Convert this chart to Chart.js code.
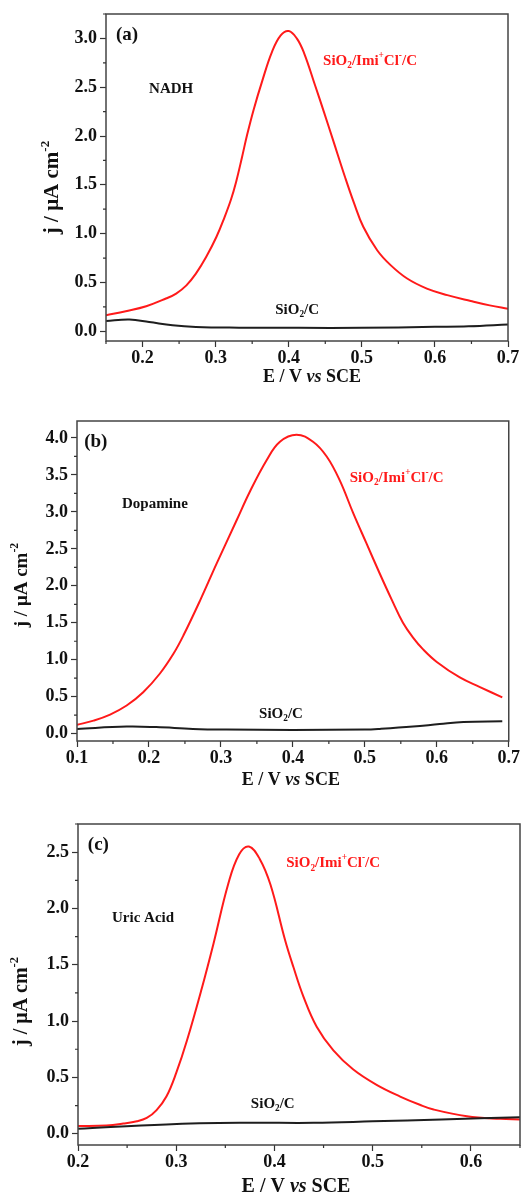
<!DOCTYPE html>
<html>
<head>
<meta charset="utf-8">
<script src="https://cdn.jsdelivr.net/npm/chart.js@4.4.1/dist/chart.umd.min.js"></script>
<style>
  body { margin: 0; background: #fff; }
  #wrap { position: relative; width: 521px; height: 1195px; overflow: hidden; }
  canvas { position: absolute; left: 0; }
</style>
</head>
<body>
<div id="wrap">
  <canvas id="chartA" width="521" height="395" style="top:0"></canvas>
  <canvas id="chartB" width="521" height="395" style="top:400px"></canvas>
  <canvas id="chartC" width="521" height="395" style="top:800px"></canvas>
</div>
<script>
// (a) NADH
const potRedA   = [0.15, 0.177, 0.205, 0.232, 0.246, 0.26, 0.273, 0.287, 0.301, 0.312, 0.321, 0.328, 0.336, 0.343, 0.352, 0.364, 0.377, 0.389, 0.40, 0.411, 0.421, 0.436, 0.448, 0.461, 0.477, 0.489, 0.502, 0.521, 0.539, 0.562, 0.589, 0.617, 0.649, 0.675, 0.70];
const jRedA     = [0.164, 0.205, 0.256, 0.335, 0.386, 0.47, 0.59, 0.76, 0.965, 1.165, 1.35, 1.53, 1.78, 2.01, 2.27, 2.57, 2.86, 3.03, 3.075, 3.0, 2.85, 2.52, 2.25, 1.95, 1.58, 1.32, 1.07, 0.83, 0.68, 0.54, 0.437, 0.37, 0.31, 0.265, 0.23];
const potBlackA = [0.15, 0.182, 0.209, 0.241, 0.273, 0.332, 0.414, 0.5, 0.6, 0.646, 0.70];
const jBlackA   = [0.105, 0.12, 0.095, 0.061, 0.044, 0.037, 0.035, 0.035, 0.045, 0.05, 0.068];
const xTicksA   = [0.2, 0.3, 0.4, 0.5, 0.6, 0.7];
const yTicksA   = [0.0, 0.5, 1.0, 1.5, 2.0, 2.5, 3.0];

// (b) Dopamine
const potRedB   = [0.1, 0.123, 0.146, 0.169, 0.192, 0.215, 0.234, 0.248, 0.271, 0.294, 0.322, 0.340, 0.3635, 0.382, 0.405, 0.428, 0.447, 0.465, 0.484, 0.502, 0.521, 0.537, 0.553, 0.567, 0.581, 0.6, 0.632, 0.66, 0.691];
const jRedB     = [0.118, 0.176, 0.258, 0.38, 0.56, 0.81, 1.08, 1.33, 1.80, 2.30, 2.89, 3.27, 3.70, 3.95, 4.045, 3.95, 3.75, 3.43, 2.98, 2.58, 2.16, 1.82, 1.50, 1.30, 1.14, 0.97, 0.76, 0.63, 0.49];
const potBlackB = [0.1, 0.169, 0.21, 0.261, 0.308, 0.4, 0.5, 0.521, 0.567, 0.604, 0.637, 0.691];
const jBlackB   = [0.064, 0.095, 0.088, 0.064, 0.055, 0.05, 0.055, 0.064, 0.095, 0.13, 0.158, 0.167];
const xTicksB   = [0.1, 0.2, 0.3, 0.4, 0.5, 0.6, 0.7];
const yTicksB   = [0.0, 0.5, 1.0, 1.5, 2.0, 2.5, 3.0, 3.5, 4.0];

// (c) Uric Acid
const potRedC   = [0.2, 0.229, 0.246, 0.26, 0.27, 0.28, 0.29, 0.30, 0.311, 0.326, 0.338, 0.353, 0.364, 0.374, 0.385, 0.396, 0.4108, 0.4193, 0.4294, 0.443, 0.46, 0.4803, 0.504, 0.528, 0.548, 0.562, 0.596, 0.63, 0.65];
const jRedC     = [0.068, 0.074, 0.09, 0.11, 0.14, 0.21, 0.33, 0.54, 0.83, 1.29, 1.69, 2.22, 2.48, 2.55, 2.44, 2.21, 1.72, 1.48, 1.22, 0.95, 0.74, 0.57, 0.434, 0.33, 0.257, 0.215, 0.155, 0.132, 0.127];
const potBlackC = [0.2, 0.29, 0.37, 0.44, 0.5, 0.57, 0.65];
const jBlackC   = [0.044, 0.083, 0.097, 0.097, 0.11, 0.127, 0.147];
const xTicksC   = [0.2, 0.3, 0.4, 0.5, 0.6];
const yTicksC   = [0.0, 0.5, 1.0, 1.5, 2.0, 2.5];

const SERIF = '"Liberation Serif", "Times New Roman", serif';
const RED = '#ff1a1a';

// tiny markup: _{sub} ^{sup} ~{italic}
function parseRich(str) {
  const segs = [];
  const re = /([_^~])\{([^}]*)\}|([^_^~]+)/g;
  let m;
  while ((m = re.exec(str))) {
    if (m[3]) segs.push({ t: m[3] });
    else segs.push({ t: m[2], sub: m[1] === '_', sup: m[1] === '^', it: m[1] === '~' });
  }
  return segs;
}

function drawRich(ctx, str, x, y, size, color, align) {
  const parts = parseRich(str).map(s => {
    const sz = (s.sub || s.sup) ? size * 0.62 : size;
    const font = `${s.it ? 'italic ' : ''}bold ${sz}px ${SERIF}`;
    ctx.font = font;
    return { s, font, w: ctx.measureText(s.t).width };
  });
  const total = parts.reduce((a, p) => a + p.w, 0);
  let cx = align === 'center' ? x - total / 2 : x;
  ctx.fillStyle = color;
  ctx.textAlign = 'left';
  ctx.textBaseline = 'middle';
  parts.forEach(p => {
    ctx.font = p.font;
    const dy = p.s.sub ? size * 0.32 : p.s.sup ? -size * 0.36 : 0;
    ctx.fillText(p.s.t, cx, y + dy);
    cx += p.w;
  });
}

const pts = (xs, ys) => xs.map((x, i) => ({ x, y: ys[i] }));

// frame, minor ticks, axis titles and text labels
const decor = p => ({
  id: 'decor',
  afterDraw(chart) {
    const { ctx, chartArea: a, scales: { x, y } } = chart;
    ctx.save();
    ctx.strokeStyle = '#444';
    ctx.lineWidth = 1.5;
    ctx.strokeRect(a.left, a.top, a.right - a.left, a.bottom - a.top);

    ctx.lineWidth = 1.2;
    ctx.strokeStyle = '#333';
    ctx.beginPath();
    const xs = p.xTicks, ys = p.yTicks;
    const dx = (xs[1] - xs[0]) / 2, dy = (ys[1] - ys[0]) / 2;
    for (let v = xs[0] - dx; v <= x.max + 1e-9; v += 2 * dx) {
      if (v < x.min - 1e-9) continue;
      const px = x.getPixelForValue(v);
      ctx.moveTo(px, a.bottom); ctx.lineTo(px, a.bottom + 3);
    }
    for (let v = ys[0] - dy; v <= y.max + 1e-9; v += 2 * dy) {
      if (v < y.min - 1e-9) continue;
      const py = y.getPixelForValue(v);
      ctx.moveTo(a.left, py); ctx.lineTo(a.left - 3, py);
    }
    ctx.stroke();

    const cxA = (a.left + a.right) / 2, cyA = (a.top + a.bottom) / 2;
    drawRich(ctx, 'E / V ~{vs} SCE', cxA + p.xTitle[0], a.bottom + p.xTitle[1], p.xTitleSize, '#111', 'center');
    ctx.translate(a.left + p.yTitle[0], cyA + p.yTitle[1]);
    ctx.rotate(-Math.PI / 2);
    drawRich(ctx, 'j / μA cm^{-2}', 0, 0, p.yTitleSize, '#111', 'center');
    ctx.setTransform(1, 0, 0, 1, 0, 0);

    p.notes.forEach(n => {
      drawRich(ctx, n.text, x.getPixelForValue(n.at[0]), y.getPixelForValue(n.at[1]),
        n.size, n.color || '#111', 'left');
    });
    ctx.restore();
  }
});

function makePanel(id, p) {
  const tickFont = { family: SERIF, size: 18, weight: 'bold' };
  return new Chart(document.getElementById(id), {
    type: 'line',
    data: {
      datasets: [
        { data: pts(p.bx, p.by), borderColor: '#1e1e1e', borderWidth: 2, pointRadius: 0, tension: 0.4 },
        { data: pts(p.rx, p.ry), borderColor: RED, borderWidth: 2, pointRadius: 0, tension: 0.4 }
      ]
    },
    options: {
      responsive: false,
      animation: false,
      devicePixelRatio: 1,
      layout: { padding: { top: p.padTop, right: p.padRight, left: 0, bottom: 0 } },
      plugins: { legend: { display: false }, tooltip: { enabled: false } },
      scales: {
        x: {
          type: 'linear', min: p.xMin, max: p.xMax,
          afterBuildTicks: s => { s.ticks = p.xTicks.map(v => ({ value: v })); },
          afterFit: s => { s.height = p.xAxisH; },
          ticks: { font: tickFont, color: '#111', padding: 1, maxRotation: 0, autoSkip: false,
                   callback: v => v.toFixed(1) },
          grid: { drawOnChartArea: false, tickLength: 6, tickColor: '#333', tickWidth: 1.2 },
          border: { display: false }
        },
        y: {
          min: p.yMin, max: p.yMax,
          afterBuildTicks: s => { s.ticks = p.yTicks.map(v => ({ value: v })); },
          afterFit: s => { s.width = p.yAxisW; },
          ticks: { font: tickFont, color: '#111', padding: 3, autoSkip: false,
                   callback: v => v.toFixed(1) },
          grid: { drawOnChartArea: false, tickLength: 6, tickColor: '#333', tickWidth: 1.2 },
          border: { display: false }
        }
      }
    },
    plugins: [decor(p)]
  });
}

makePanel('chartA', {
  rx: potRedA, ry: jRedA, bx: potBlackA, by: jBlackA,
  xTicks: xTicksA, yTicks: yTicksA,
  xMin: 0.15, xMax: 0.7, yMin: -0.1, yMax: 3.25,
  padTop: 14, padRight: 13, yAxisW: 106, xAxisH: 54,
  xTitleSize: 18, yTitleSize: 21, xTitle: [5, 36], yTitle: [-53, 10],
  notes: [
    { text: '(a)', at: [0.1637, 3.03], size: 19 },
    { text: 'NADH', at: [0.209, 2.48], size: 15 },
    { text: 'SiO_{2}/Imi^{+}Cl^{-}/C', at: [0.447, 2.77], size: 15, color: RED },
    { text: 'SiO_{2}/C', at: [0.3815, 0.215], size: 15 }
  ]
});

makePanel('chartB', {
  rx: potRedB, ry: jRedB, bx: potBlackB, by: jBlackB,
  xTicks: xTicksB, yTicks: yTicksB,
  xMin: 0.1, xMax: 0.7, yMin: -0.1, yMax: 4.23,
  padTop: 21, padRight: 12, yAxisW: 77, xAxisH: 54,
  xTitleSize: 18, yTitleSize: 19, xTitle: [-2, 39], yTitle: [-55, 4],
  notes: [
    { text: '(b)', at: [0.11, 3.95], size: 19 },
    { text: 'Dopamine', at: [0.1625, 3.1], size: 15 },
    { text: 'SiO_{2}/Imi^{+}Cl^{-}/C', at: [0.479, 3.46], size: 15, color: RED },
    { text: 'SiO_{2}/C', at: [0.353, 0.27], size: 15 }
  ]
});

makePanel('chartC', {
  rx: potRedC, ry: jRedC, bx: potBlackC, by: jBlackC,
  xTicks: xTicksC, yTicks: yTicksC,
  xMin: 0.2, xMax: 0.65, yMin: -0.1, yMax: 2.75,
  padTop: 24, padRight: 1, yAxisW: 78, xAxisH: 50,
  xTitleSize: 20, yTitleSize: 20, xTitle: [-3, 42], yTitle: [-56, 17],
  notes: [
    { text: '(c)', at: [0.21, 2.56], size: 19 },
    { text: 'Uric Acid', at: [0.2346, 1.915], size: 15 },
    { text: 'SiO_{2}/Imi^{+}Cl^{-}/C', at: [0.412, 2.40], size: 15, color: RED },
    { text: 'SiO_{2}/C', at: [0.376, 0.266], size: 15 }
  ]
});
</script>
</body>
</html>
